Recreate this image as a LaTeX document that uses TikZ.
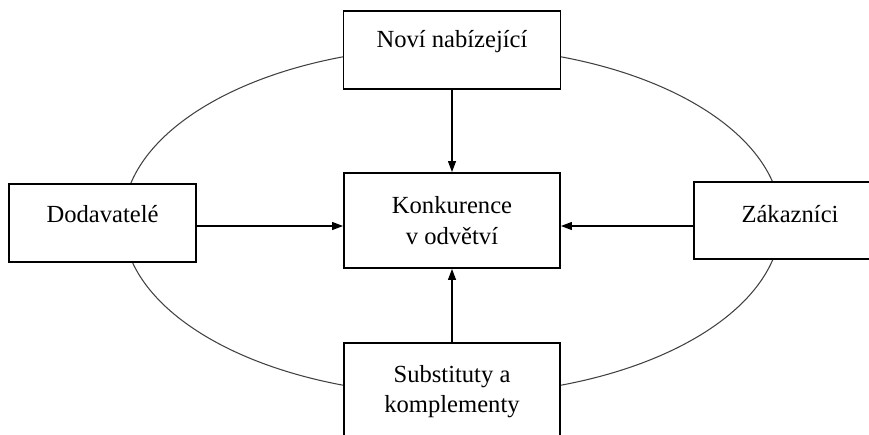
\documentclass[tikz,border=0pt]{standalone}
\usepackage{fontspec}
\setmainfont{Liberation Serif}
\usetikzlibrary{arrows.meta, positioning}

\begin{document}
\begin{tikzpicture}[x=0.02cm, y=-0.02cm,
    box/.style={draw, line width=1.1pt, fill=white, inner sep=0pt, align=center,
      font=\fontsize{14}{17.5}\selectfont},
    arr/.style={-{Triangle[length=2.2mm, width=1.6mm]}, line width=0.7pt}]
  % frame
  \clip (0,0) rectangle (869,434);
  % ring behind the boxes
  \draw[line width=0.6pt, black!75] (452,221) ellipse [x radius=6.58cm, y radius=3.48cm];
  % five forces
  \node[box, minimum width=4.34cm, text height=0.72cm, text depth=0.84cm] (novi) at (452,50) {Noví nabízející};
  \node[box, minimum width=4.32cm, minimum height=1.9cm] (konk) at (452,220.5) {Konkurence\\v odvětví};
  \node[box, minimum width=3.74cm, text height=0.76cm, text depth=0.8cm] (dod) at (102.5,223) {Dodavatelé};
  \node[box, minimum width=3.84cm, text height=0.8cm, text depth=0.74cm] (zak) at (790,220.5) {Zákazníci};
  \node[box, minimum width=4.32cm, minimum height=1.94cm] (subst) at (452,391.5) {Substituty a\\komplementy};
  % arrows into the middle
  \coordinate (ds) at ([yshift=-0.06cm]dod.east);
  \coordinate (zs) at ([yshift=-0.11cm]zak.west);
  \draw[arr] (novi) -- (konk);
  \draw[arr] (subst) -- (konk);
  \draw[arr] (ds) -- (ds -| konk.west);
  \draw[arr] (zs) -- (zs -| konk.east);
\end{tikzpicture}
\end{document}
